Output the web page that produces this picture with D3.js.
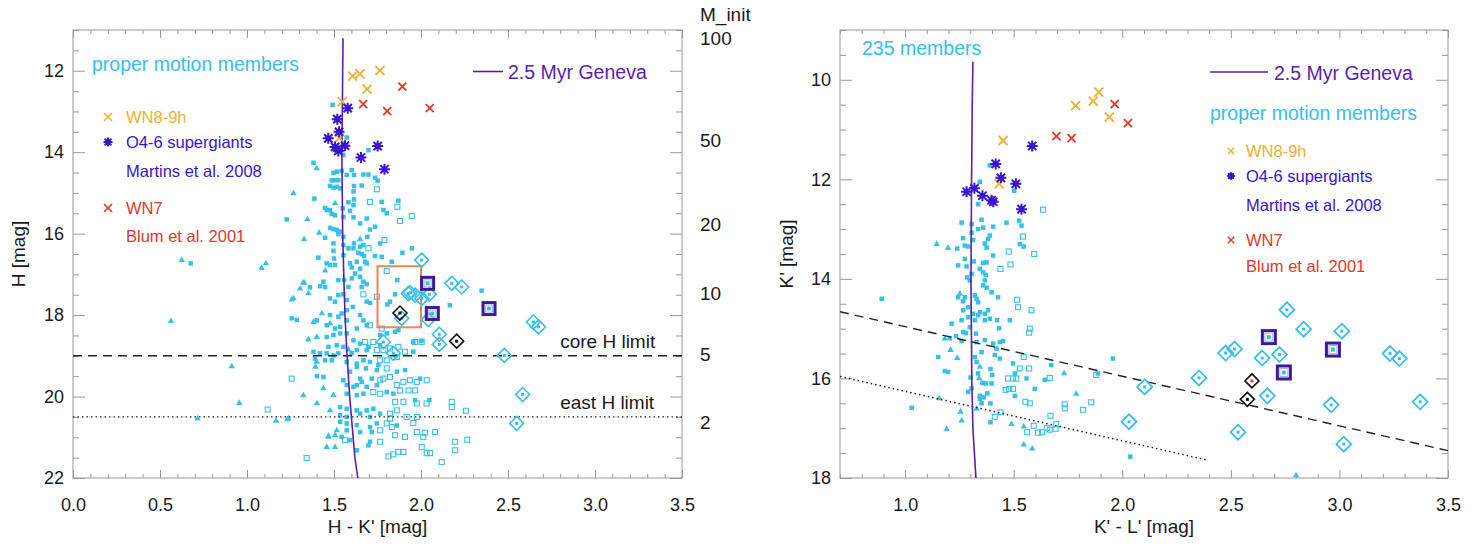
<!DOCTYPE html>
<html><head><meta charset="utf-8">
<script src="https://cdn.jsdelivr.net/npm/d3@7"></script>
<style>body{margin:0;background:#fff} text{font-family:'Liberation Sans',Arial,Helvetica,sans-serif}</style>
</head><body>
<svg id="c" width="1479" height="550"></svg>
<script>
// ---------------- DATA ----------------
// Left panel: H vs H-K'
const leftFilled = [[1.573,13.64],[1.698,13.95],[1.554,14.07],[1.382,14.26],[1.497,14.51],[1.516,14.48],[1.544,14.46],[1.573,14.56],[1.615,14.56],[1.602,14.44],[1.669,14.55],[1.698,14.55],[1.736,14.63],[1.751,14.70],[1.487,14.69],[1.506,14.69],[1.525,14.69],[1.477,14.83],[1.497,14.87],[1.516,14.85],[1.535,14.89],[1.615,14.83],[1.659,14.82],[1.612,14.96],[1.387,15.14],[1.615,15.16],[1.583,15.23],[1.774,15.22],[1.870,15.19],[1.612,15.30],[1.449,15.37],[1.458,15.42],[1.477,15.42],[1.550,15.38],[1.592,15.44],[1.784,15.42],[1.803,15.50],[1.487,15.52],[1.506,15.55],[1.554,15.59],[1.612,15.60],[1.688,15.63],[1.228,15.65],[1.650,15.75],[1.707,15.90],[1.736,15.83],[1.477,15.86],[1.497,15.89],[1.516,15.91],[1.535,15.95],[1.525,16.01],[1.554,16.08],[1.692,16.08],[1.449,16.10],[1.615,16.24],[1.497,16.24],[1.765,16.24],[1.554,16.28],[1.583,16.36],[1.612,16.36],[1.650,16.32],[1.669,16.28],[1.497,16.42],[1.410,16.59],[1.500,16.61],[1.554,16.53],[1.640,16.47],[1.659,16.50],[1.673,16.55],[1.736,16.55],[1.774,16.57],[1.893,16.47],[1.947,16.36],[1.458,16.73],[1.477,16.77],[1.506,16.77],[1.592,16.73],[1.631,16.69],[1.679,16.69],[1.602,16.83],[1.650,16.86],[1.688,16.73],[1.832,16.69],[1.621,16.98],[1.650,17.06],[1.525,17.14],[1.558,17.14],[1.602,17.10],[1.669,17.18],[1.688,17.24],[1.864,17.14],[1.439,17.18],[1.420,17.29],[1.449,17.31],[1.362,17.32],[1.583,17.31],[1.659,17.31],[1.477,17.59],[1.506,17.67],[1.525,17.51],[1.554,17.49],[1.573,17.63],[1.707,17.70],[1.851,17.49],[1.807,17.74],[1.822,17.67],
[1.688,17.67],[1.257,18.08],[1.286,18.12],[1.401,18.13],[1.477,18.00],[1.525,18.04],[1.544,17.96],[1.573,17.88],[1.608,17.80],[1.650,18.00],[1.669,18.13],[1.688,18.25],[1.573,18.13],[1.458,18.25],[1.506,18.33],[1.535,18.29],[1.631,18.33],[1.851,18.41],[1.870,18.37],[1.765,18.49],[1.803,18.45],[1.458,18.54],[1.497,18.49],[1.535,18.45],[1.573,18.45],[1.612,18.62],[1.650,18.70],[1.698,18.78],[1.765,18.74],[1.468,18.78],[1.516,18.74],[1.554,18.78],[1.631,18.86],[1.688,18.86],[1.956,18.90],[1.382,18.90],[1.420,18.94],[1.458,18.94],[1.497,18.99],[1.525,18.94],[1.602,18.93],[1.391,19.07],[1.449,19.11],[1.487,19.11],[1.573,19.15],[1.631,19.19],[1.669,19.11],[1.707,19.15],[1.755,19.23],[1.592,19.39],[1.631,19.27],[1.684,19.31],[1.746,19.35],[1.861,19.39],[1.908,19.35],[1.439,19.52],[1.554,19.60],[1.650,19.56],[1.659,19.64],[1.717,19.56],[1.995,19.56],[1.573,19.72],[1.612,19.76],[1.631,19.72],[1.688,19.76],[1.746,19.72],[1.573,19.93],[1.631,19.97],[1.669,19.93],[1.803,19.89],[1.841,19.93],[1.966,20.09],[1.535,20.26],[1.573,20.30],[1.631,20.34],[1.650,20.42],[1.688,20.34],[1.726,20.30],[1.765,20.42],[1.535,20.46],[1.573,20.50],[1.707,20.50],[1.535,20.62],[1.573,20.66],[1.631,20.70],[1.707,20.75],[1.746,20.66],[1.861,20.71],[1.573,20.83],[1.650,20.87],[1.717,20.87],[1.544,20.99],[1.592,21.07],[1.707,21.11],[1.698,21.20],[1.631,21.32],
[0.676,16.73],[1.492,12.84],[2.348,17.40],[2.166,17.76],[1.956,18.66],[2.003,18.63],[2.048,20.09],[1.402,19.50]];
const leftOpen = [[1.746,14.91],[1.707,15.22],[1.864,15.34],[1.947,15.57],[1.880,15.69],[1.790,16.16],[1.698,16.36],[1.803,16.92],[1.669,17.49],[1.746,17.55],[1.707,18.25],[1.774,18.33],[1.966,18.66],[2.004,18.66],[1.679,18.66],[1.726,18.66],[1.746,18.86],[1.784,18.86],[1.822,18.82],[1.870,18.78],[1.908,18.90],[1.765,19.11],[1.803,19.11],[1.861,19.03],[1.803,19.31],[1.257,19.56],[1.765,19.60],[1.784,19.56],[1.822,19.52],[1.861,19.72],[1.899,19.64],[1.937,19.60],[1.976,19.64],[2.033,19.60],[1.726,19.89],[1.765,19.93],[1.880,19.85],[1.928,19.85],[1.966,19.85],[1.851,20.13],[1.899,20.13],[1.976,20.17],[2.177,20.13],[2.177,20.26],[1.822,20.42],[1.861,20.34],[1.918,20.50],[1.976,20.50],[1.822,20.54],[1.803,20.66],[1.832,20.75],[1.976,20.87],[2.023,20.89],[2.081,20.87],[1.765,20.83],[1.851,20.95],[1.908,20.99],[1.564,21.07],[1.765,21.11],[2.004,21.24],[2.196,21.11],[2.196,21.32],[1.343,21.51],[1.813,21.47],[1.841,21.42],[1.870,21.36],[1.899,21.36],[2.033,21.39],[2.052,21.39],[2.119,21.61],[1.119,20.32],[2.032,20.17],[2.258,20.35],[2.013,20.99],[2.266,21.06],[1.956,20.65]];
const leftTri = [[1.401,14.40],[1.267,15.01],[1.506,15.26],[1.347,15.65],[1.414,15.98],[1.650,16.14],[1.328,16.14],[1.449,16.91],[1.328,17.20],[1.353,17.47],[1.267,17.59],[1.430,17.96],[1.382,18.17],[1.477,18.21],[1.401,18.54],[1.583,18.85],[1.401,19.15],[1.439,19.80],[1.324,19.97],[1.497,19.97],[1.477,20.34],[1.238,20.54],[1.516,20.83],[1.468,20.99],[1.506,20.95],[1.458,21.24],[1.506,21.24],[0.563,18.15],[0.912,19.26],[0.956,20.16],[0.716,20.54],[1.167,20.60],[1.232,20.56],[1.257,17.62],[1.305,17.35],[1.323,17.21],[1.352,18.60],[1.393,19.27],[1.402,20.17],[1.469,20.97],[0.625,16.65],[1.084,16.85],[1.109,16.73]];
const leftDiamonds = [[2.004,16.65],[2.177,17.22],[2.234,17.31],[1.937,17.45],[1.966,17.51],[2.004,17.59],[2.048,17.49],[1.927,17.47],[1.889,18.08],[2.042,18.11],[2.105,18.47],[2.105,18.72],[2.646,18.17],[2.675,18.29],[2.479,18.99],[2.584,19.95],[2.550,20.66],[1.783,18.66],[1.841,18.94]];
const leftPurpleSq = [[2.038,17.22],[2.065,17.96],[2.391,17.84]];
const leftBlackDia = [[1.879,17.95],[2.205,18.64]];
const leftWN89 = [[1.607,12.13],[1.649,12.08],[1.764,12.00],[1.690,12.45],[1.547,12.76],[1.530,13.65]];
const leftWN7 = [[1.668,12.82],[1.806,12.99],[1.893,12.39],[2.050,12.92]];
const leftOSG = [[1.519,13.19],[1.579,12.92],[1.529,13.50],[1.467,13.66],[1.506,13.87],[1.525,13.97],[1.563,13.84],[1.655,14.13],[1.751,13.85],[1.790,14.42]];
const isoLeftHK = [1.552,1.550,1.548,1.545,1.550,1.556,1.563,1.575,1.590,1.600,1.620,1.637];
const isoLeftH  = [11.2,12,13,14,16,17,18,19,20,20.5,21.5,22];
const coreH = 19.0, eastH = 20.5;
const boxHK = [1.75, 2.0], boxH = [16.8, 18.3];
const massLabels = ["100","50","20","10","5","2"];
const massH = [11.2,13.70,15.77,17.46,18.96,20.63];

// Right panel: K' vs K'-L'
const rightFilled = [[1.390,11.72],[1.344,12.05],[1.502,12.23],[1.336,12.50],[1.260,12.87],[1.306,12.90],[1.352,12.81],[1.336,13.00],[1.359,12.97],[1.405,12.95],[1.467,12.87],[1.525,12.83],[1.536,12.93],[1.306,13.07],[1.267,13.18],[1.313,13.22],[1.390,13.13],[1.382,13.20],[1.367,13.29],[1.240,13.39],[1.275,13.33],[1.290,13.35],[1.375,13.37],[1.528,13.30],[1.546,13.35],[1.405,13.53],[1.275,13.60],[1.316,13.65],[1.359,13.68],[1.375,13.67],[1.244,13.73],[1.283,13.75],[1.344,13.80],[1.359,13.87],[1.371,13.92],[1.306,13.90],[1.286,13.97],[1.298,14.03],[1.367,14.03],[1.359,14.13],[1.375,14.18],[1.398,14.27],[1.428,14.37],[1.244,14.37],[1.275,14.37],[1.321,14.33],[1.329,14.40],[1.336,14.47],[1.267,14.45],[0.892,14.40],[1.267,14.63],[1.290,14.57],[1.313,14.70],[1.336,14.73],[1.344,14.67],[1.367,14.70],[1.382,14.63],[1.390,14.80],[1.367,14.83],[1.321,14.83],[1.290,14.77],[1.260,14.83],[1.424,14.83],[1.482,14.83],[1.214,14.90],[1.298,14.97],[1.433,14.99],[1.267,15.07],[1.280,15.09],[1.326,15.10],[1.234,15.15],[1.206,15.19],[1.260,15.25],[1.329,15.27],[1.367,15.23],[1.405,15.30],[1.436,15.27],[1.451,15.25],[1.421,15.40],[1.352,15.47],[1.413,15.53],[1.436,15.60],[1.152,15.57],[1.321,15.57],[1.329,15.67],[1.497,15.70],[1.673,15.73],[1.888,15.90],[1.183,15.85],[1.198,15.87],[1.393,15.81],[1.401,15.93],[1.505,15.90],[1.336,15.90],[1.301,15.98],[1.559,16.00],[1.643,16.03],[1.356,16.09],[1.371,16.10],[1.398,16.10],[1.306,16.20],[1.290,16.27],[1.597,16.21],[1.378,16.30],[1.344,16.35],[1.362,16.38],[1.505,16.35],[1.344,16.41],[1.352,16.50],[1.393,16.50],[1.030,16.59],[1.393,16.88],[1.957,15.60],[2.037,17.57]];
const rightOpen = [[1.635,12.61],[1.543,13.15],[1.477,13.45],[1.594,13.50],[1.485,13.71],[1.439,13.80],[1.516,14.42],[1.520,14.57],[1.582,14.63],[1.571,15.08],[1.574,15.00],[1.546,15.57],[1.880,15.93],[1.528,15.80],[1.571,15.80],[1.474,16.00],[1.497,16.00],[1.512,16.00],[1.666,15.99],[1.463,16.23],[1.479,16.21],[1.497,16.21],[1.554,16.47],[1.574,16.50],[1.735,16.52],[1.735,16.60],[1.819,16.63],[1.857,16.48],[1.413,16.77],[1.439,16.68],[1.669,16.75],[1.592,16.95],[1.562,17.08],[1.612,17.09],[1.631,17.08],[1.654,17.00],[1.666,17.03],[1.693,17.01],[1.696,16.92]];
const rightTri = [[1.145,13.30],[1.198,13.38],[1.252,14.30],[1.183,15.20],[1.209,15.43],[1.240,15.59],[1.732,15.90],[1.344,15.77],[1.341,16.00],[1.788,16.31],[1.157,16.40],[1.329,16.61],[1.255,16.67],[1.260,16.85],[1.490,16.92],[1.546,16.97],[1.191,17.02],[1.546,17.33],[1.585,17.41],[2.80,17.95]];
const rightDiamonds = [[2.758,14.62],[2.835,15.01],[3.011,15.05],[2.476,15.49],[2.517,15.41],[2.644,15.59],[2.724,15.52],[3.233,15.50],[3.276,15.60],[2.353,15.99],[2.103,16.17],[2.668,16.35],[2.962,16.53],[3.372,16.47],[2.031,16.87],[2.533,17.08],[3.020,17.32]];
const rightPurpleSq = [[2.675,15.17],[2.744,15.88],[2.970,15.42]];
const rightBlackDia = [[2.597,16.05,"#e0402a"],[2.576,16.42,"#111"]];
const rightWN89 = [[1.451,11.22],[1.785,10.52],[1.866,10.43],[1.892,10.25],[1.940,10.75],[1.433,12.09]];
const rightWN7 = [[1.697,11.13],[1.766,11.17],[1.965,10.49],[2.026,10.87]];
const rightOSG = [[1.283,12.25],[1.319,12.18],[1.356,12.33],[1.398,12.42],[1.406,12.45],[1.417,11.69],[1.441,11.97],[1.510,12.09],[1.536,12.60],[1.585,11.33]];
const isoRightKL = [1.312,1.309,1.306,1.303,1.305,1.307,1.312,1.326];
const isoRightK  = [9.64,10.5,12,14,15,16,17,18];
const dashedKL = [0.7, 3.5], dashedK = [14.66, 17.45];
const dottedKL = [0.7, 2.39], dottedK = [15.96, 17.64];

// ---------------- STYLE ----------------
const cyan = "#36c0ea", purple = "#5a1fb0", blueV = "#3a14d0", orange = "#f0b030", red = "#e0382a", dark = "#3b1c98";
const axisCol = "#999", txt = "#1a1a1a";
const svg = d3.select("#c");

const xL = d3.scaleLinear([0,3.5],[73,682]);
const yL = d3.scaleLinear([11,22],[30,478]);
const xR = d3.scaleLinear([0.7,3.5],[840,1448]);
const yR = d3.scaleLinear([9,18],[30,478]);

function frame(x, y, xMaj, xMin, yMaj, yMin, yTickLen){
  const [x0,x1] = x.range(), [y0,y1] = y.range();
  const g = svg.append("g");
  const style = sel => { sel.select(".domain").remove(); sel.selectAll("line").attr("stroke",axisCol); sel.selectAll("text").attr("font-size",18).attr("fill",txt); };
  g.append("g").attr("transform",`translate(0,${y1})`).call(d3.axisBottom(x).tickValues(xMaj).tickSize(-8).tickPadding(20).tickFormat(d3.format(".1f"))).call(style);
  g.append("g").attr("transform",`translate(0,${y1})`).call(d3.axisBottom(x).tickValues(xMin).tickSize(-4).tickFormat("")).call(style);
  g.append("g").attr("transform",`translate(0,${y0})`).call(d3.axisTop(x).tickValues(xMaj).tickSize(-8).tickFormat("")).call(style);
  g.append("g").attr("transform",`translate(0,${y0})`).call(d3.axisTop(x).tickValues(xMin).tickSize(-4).tickFormat("")).call(style);
  g.append("g").attr("transform",`translate(${x0},0)`).call(d3.axisLeft(y).tickValues(yMaj).tickSize(-yTickLen).tickPadding(9).tickFormat(d3.format("d"))).call(style);
  g.append("g").attr("transform",`translate(${x0},0)`).call(d3.axisLeft(y).tickValues(yMin).tickSize(-yTickLen/2).tickFormat("")).call(style);
  g.append("g").attr("transform",`translate(${x1},0)`).call(d3.axisRight(y).tickValues(yMaj).tickSize(-yTickLen).tickFormat("")).call(style);
  g.append("g").attr("transform",`translate(${x1},0)`).call(d3.axisRight(y).tickValues(yMin).tickSize(-yTickLen/2).tickFormat("")).call(style);
  g.append("rect").attr("x",x0).attr("y",y0).attr("width",x1-x0).attr("height",y1-y0).attr("fill","none").attr("stroke",axisCol).attr("stroke-width",1);
}
const near = (a,b)=>Math.abs(a-b)<1e-6;
const lxMaj = d3.range(0,3.51,0.5), lxMin = d3.range(0,3.501,0.1).filter(v=>!lxMaj.some(m=>near(m,v)));
const lyMaj = d3.range(12,22.1,2), lyMin = d3.range(11,22.01,0.5).filter(v=>!lyMaj.some(m=>near(m,v)));
const rxMaj = d3.range(1.0,3.51,0.5), rxMin = d3.range(0.7,3.501,0.1).filter(v=>!rxMaj.some(m=>near(m,v)));
const ryMaj = d3.range(10,18.1,2), ryMin = d3.range(9,18.01,0.5).filter(v=>!ryMaj.some(m=>near(m,v)));
frame(xL,yL,lxMaj,lxMin,lyMaj,lyMin,12);
frame(xR,yR,rxMaj,rxMin,ryMaj,ryMin,12);

// clip paths
const defs = svg.append("defs");
defs.append("clipPath").attr("id","clipL").append("rect").attr("x",73).attr("y",30).attr("width",609).attr("height",448);
defs.append("clipPath").attr("id","clipR").append("rect").attr("x",840).attr("y",30).attr("width",608).attr("height",448);

function members(g, x, y, filled, open, tri){
  g.selectAll(null).data(filled).join("rect").attr("x",d=>x(d[0])-2.25).attr("y",d=>y(d[1])-2.25).attr("width",4.5).attr("height",4.5).attr("fill",cyan);
  g.selectAll(null).data(open).join("rect").attr("x",d=>x(d[0])-2.5).attr("y",d=>y(d[1])-2.5).attr("width",5).attr("height",5).attr("fill","none").attr("stroke",cyan).attr("stroke-width",1.1);
  g.selectAll(null).data(tri).join("path").attr("d",d3.symbol(d3.symbolTriangle,18)).attr("transform",d=>`translate(${x(d[0])},${y(d[1])})`).attr("fill",cyan);
}
function diamonds(g, x, y, data, r, col, w){
  g.selectAll(null).data(data).join("path").attr("d",`M0,${-r}L${r},0L0,${r}L${-r},0Z`).attr("transform",d=>`translate(${x(d[0])},${y(d[1])})`).attr("fill","none").attr("stroke",d=>col||d[2]).attr("stroke-width",w);
}
function dots(g, x, y, data, col, s){
  g.selectAll(null).data(data).join("rect").attr("x",d=>x(d[0])-s/2).attr("y",d=>y(d[1])-s/2).attr("width",s).attr("height",s).attr("fill",d=>col||d[2]);
}
function purpleSq(g, x, y, data, s){
  g.selectAll(null).data(data).join("rect").attr("x",d=>x(d[0])-s/2).attr("y",d=>y(d[1])-s/2).attr("width",s).attr("height",s).attr("fill","none").attr("stroke",dark).attr("stroke-width",3);
  g.selectAll(null).data(data).join("rect").attr("x",d=>x(d[0])-s/2+2.5).attr("y",d=>y(d[1])-s/2+2.5).attr("width",s-5).attr("height",s-5).attr("fill","none").attr("stroke","#b9a8ea").attr("stroke-width",1);
  dots(g,x,y,data,cyan,4);
}
function crosses(g, x, y, data, col, r, w){
  g.selectAll(null).data(data).join("path").attr("d",`M${-r},${-r}L${r},${r}M${-r},${r}L${r},${-r}`).attr("transform",d=>`translate(${x(d[0])},${y(d[1])})`).attr("stroke",col).attr("stroke-width",w).attr("fill","none");
}
function stars(g, x, y, data, r){
  const q = r*0.75;
  g.selectAll(null).data(data).join("path").attr("d",`M${-q},${-q}L${q},${q}M${-q},${q}L${q},${-q}M0,${-r}L0,${r}M${-r},0L${r},0`).attr("transform",d=>`translate(${x(d[0])},${y(d[1])})`).attr("stroke",blueV).attr("stroke-width",2).attr("fill","none");
  g.selectAll(null).data(data).join("rect").attr("x",d=>x(d[0])-2.5).attr("y",d=>y(d[1])-2.5).attr("width",5).attr("height",5).attr("fill",blueV);
}
const line = (x,y)=>d3.line().x(d=>x(d[0])).y(d=>y(d[1]));

// ---------- LEFT PANEL ----------
const gL = svg.append("g").attr("clip-path","url(#clipL)");
members(gL, xL, yL, leftFilled, leftOpen, leftTri);
gL.append("line").attr("x1",xL(0)).attr("x2",xL(3.5)).attr("y1",yL(coreH)).attr("y2",yL(coreH)).attr("stroke","#222").attr("stroke-width",1.4).attr("stroke-dasharray","9,6");
gL.append("line").attr("x1",xL(0)).attr("x2",xL(3.5)).attr("y1",yL(eastH)).attr("y2",yL(eastH)).attr("stroke","#222").attr("stroke-width",1.4).attr("stroke-dasharray","1.5,3");
gL.append("path").datum(d3.zip(isoLeftHK,isoLeftH)).attr("d",line(xL,yL)).attr("fill","none").attr("stroke",purple).attr("stroke-width",1.6);
gL.append("rect").attr("x",xL(boxHK[0])).attr("y",yL(boxH[0])).attr("width",xL(boxHK[1])-xL(boxHK[0])).attr("height",yL(boxH[1])-yL(boxH[0])).attr("fill","none").attr("stroke","#ee8459").attr("stroke-width",2);
diamonds(gL, xL, yL, leftDiamonds, 7, cyan, 1.6);
dots(gL, xL, yL, leftDiamonds, cyan, 3);
diamonds(gL, xL, yL, leftBlackDia, 7, "#111", 1.6);
dots(gL, xL, yL, leftBlackDia, "#111", 3);
purpleSq(gL, xL, yL, leftPurpleSq, 12);
crosses(gL, xL, yL, leftWN89, orange, 4.5, 1.8);
crosses(gL, xL, yL, leftWN7, red, 4, 1.8);
stars(gL, xL, yL, leftOSG, 5.5);

// left texts
const T = (x,y,s,size,col,anchor)=>svg.append("text").attr("x",x).attr("y",y).text(s).attr("font-size",size).attr("fill",col).attr("text-anchor",anchor||"start");
T(92,71,"proper motion members",19.5,cyan);
crosses(svg, d=>d, d=>d, [[108,117]], orange, 4, 1.6);
T(126,123,"WN8-9h",16.5,orange);
stars(svg, d=>d, d=>d, [[108,142]], 4.5);
T(126,148,"O4-6 supergiants",16.5,blueV);
T(126,177,"Martins et al. 2008",16.5,blueV);
crosses(svg, d=>d, d=>d, [[108,208]], red, 4, 1.6);
T(126,214,"WN7",16.5,red);
T(126,242,"Blum et al. 2001",16.5,red);
svg.append("line").attr("x1",473).attr("x2",503).attr("y1",71.5).attr("y2",71.5).attr("stroke",purple).attr("stroke-width",1.6);
T(508,79,"2.5 Myr Geneva",19.5,purple);
T(xL(2.8),yL(18.64)+7,"core H limit",19,txt);
T(xL(2.8),yL(20.14)+7,"east H limit",19,txt);
T(700,21,"M_init",19,txt);
massLabels.forEach((m,i)=>T(700,yL(massH[i])+7,m,19,txt));
T(xL(1.75),533,"H - K' [mag]",19,txt,"middle");
svg.append("text").attr("transform",`translate(25,${yL(16.5)}) rotate(-90)`).attr("text-anchor","middle").attr("font-size",19).attr("fill",txt).text("H [mag]");

// ---------- RIGHT PANEL ----------
const gR = svg.append("g").attr("clip-path","url(#clipR)");
members(gR, xR, yR, rightFilled, rightOpen, rightTri);
gR.append("path").datum(d3.zip(dashedKL,dashedK)).attr("d",line(xR,yR)).attr("stroke","#222").attr("stroke-width",1.4).attr("stroke-dasharray","9,6").attr("fill","none");
gR.append("path").datum(d3.zip(dottedKL,dottedK)).attr("d",line(xR,yR)).attr("stroke","#222").attr("stroke-width",1.4).attr("stroke-dasharray","1.5,3").attr("fill","none");
gR.append("path").datum(d3.zip(isoRightKL,isoRightK)).attr("d",line(xR,yR)).attr("fill","none").attr("stroke",purple).attr("stroke-width",1.6);
diamonds(gR, xR, yR, rightDiamonds, 7.5, cyan, 1.8);
dots(gR, xR, yR, rightDiamonds, cyan, 3);
diamonds(gR, xR, yR, rightBlackDia, 7, "#111", 1.6);
dots(gR, xR, yR, rightBlackDia, null, 3);
purpleSq(gR, xR, yR, rightPurpleSq, 13);
crosses(gR, xR, yR, rightWN89, orange, 4.5, 1.8);
crosses(gR, xR, yR, rightWN7, red, 4, 1.8);
stars(gR, xR, yR, rightOSG, 5.5);

T(862,55,"235 members",19.5,cyan);
svg.append("line").attr("x1",1210).attr("x2",1268).attr("y1",72).attr("y2",72).attr("stroke",purple).attr("stroke-width",1.6);
T(1274,80,"2.5 Myr Geneva",19.5,purple);
T(1210,120,"proper motion members",19.5,cyan);
crosses(svg, d=>d, d=>d, [[1231,151]], orange, 3.2, 1.4);
T(1246,157,"WN8-9h",16.5,orange);
stars(svg, d=>d, d=>d, [[1231,176]], 3.8);
T(1246,182,"O4-6 supergiants",16.5,blueV);
T(1246,211,"Martins et al. 2008",16.5,blueV);
crosses(svg, d=>d, d=>d, [[1231,240]], red, 3.2, 1.4);
T(1246,246,"WN7",16.5,red);
T(1246,272,"Blum et al. 2001",16.5,red);
T(xR(2.1),533,"K' - L' [mag]",19,txt,"middle");
svg.append("text").attr("transform",`translate(793,${yR(13.5)}) rotate(-90)`).attr("text-anchor","middle").attr("font-size",19).attr("fill",txt).text("K' [mag]");
</script>
</body></html>
